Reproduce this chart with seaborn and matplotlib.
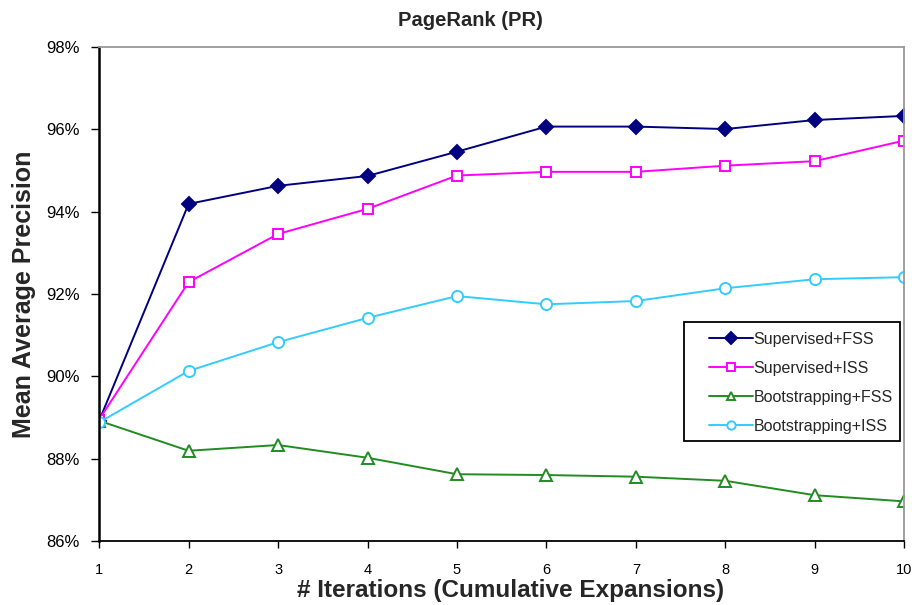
import matplotlib
matplotlib.use("Agg")
import matplotlib.pyplot as plt
import seaborn as sns
import pandas as pd
from matplotlib.patches import Rectangle
from matplotlib.ticker import FuncFormatter

iterations = [1, 2, 3, 4, 5, 6, 7, 8, 9, 10]
supervised_fss = [88.92, 94.19, 94.63, 94.87, 95.46, 96.07, 96.07, 96.01, 96.23, 96.33]
supervised_iss = [88.95, 92.29, 93.46, 94.07, 94.88, 94.97, 94.97, 95.12, 95.23, 95.73]
bootstrapping_fss = [88.92, 88.19, 88.33, 88.02, 87.62, 87.60, 87.56, 87.46, 87.11, 86.96]
bootstrapping_iss = [88.88, 90.13, 90.83, 91.42, 91.95, 91.75, 91.83, 92.14, 92.36, 92.41]

series_names = ["Supervised+FSS", "Supervised+ISS", "Bootstrapping+FSS", "Bootstrapping+ISS"]
series_values = [supervised_fss, supervised_iss, bootstrapping_fss, bootstrapping_iss]
y_ticks = [86, 88, 90, 92, 94, 96, 98]

styles = {
    "Supervised+FSS": dict(color="#000080", marker="D", mfc="#000080", ms=7),
    "Supervised+ISS": dict(color="#FF00FF", marker="s", mfc="white", ms=7.5),
    "Bootstrapping+FSS": dict(color="#228B22", marker="^", mfc="white", ms=8),
    "Bootstrapping+ISS": dict(color="#33CCFF", marker="o", mfc="white", ms=8),
}

df = pd.DataFrame({
    "iteration": iterations * len(series_names),
    "value": [v for vals in series_values for v in vals],
    "series": [n for n in series_names for _ in iterations],
})

sns.set_style("white")
plt.rcParams["font.family"] = ["Liberation Sans", "DejaVu Sans"]

fig = plt.figure(figsize=(9.18, 6.05), dpi=100)
ax = fig.add_axes([0.108, 0.106, 0.877, 0.816])

for name in series_names:
    st = styles[name]
    sub = df[df["series"] == name]
    sns.lineplot(data=sub, x="iteration", y="value", ax=ax, label=name,
                 color=st["color"], marker=st["marker"], markersize=st["ms"],
                 markerfacecolor=st["mfc"], markeredgecolor=st["color"],
                 markeredgewidth=1.4, linewidth=1.4)

ax.set_xlim(1, 10)
ax.set_ylim(86, 98)
ax.set_xticks(iterations)
ax.set_yticks(y_ticks)
ax.yaxis.set_major_formatter(FuncFormatter(lambda v, _: f"{v:.0f}%"))
ax.tick_params(axis="both", direction="out", width=1, colors="black",
               left=True, bottom=True)
ax.tick_params(axis="y", length=6, labelsize=12, pad=8)
ax.tick_params(axis="x", length=5, labelsize=10.5, pad=11)

for side in ["top", "right"]:
    ax.spines[side].set_color("#999999")
    ax.spines[side].set_linewidth(1.3)
ax.spines["left"].set_color("black")
ax.spines["left"].set_linewidth(1.8)
ax.spines["bottom"].set_color("black")
ax.spines["bottom"].set_linewidth(1.3)

fig.text(0.512, 0.966, "PageRank (PR)", ha="center", va="center",
         fontsize=14.5, fontweight="bold")
ax.set_xlabel("# Iterations (Cumulative Expansions)", fontsize=17.5,
              fontweight="bold")
ax.xaxis.set_label_coords(0.511, -0.077)
ax.set_ylabel("Mean Average Precision", fontsize=18, fontweight="bold",
              labelpad=7)

# legend entries without their own frame, boxed by a separate rectangle
leg = ax.legend(loc="upper left", bbox_to_anchor=(0.757, 0.424), fontsize=11.5,
                frameon=False, handlelength=2.75, labelspacing=0.88,
                borderpad=0, handletextpad=0.05, borderaxespad=0)
for h in leg.legend_handles:
    h.set_markersize(6)
leg.set_zorder(6)
ax.add_patch(Rectangle((0.726, 0.2024), 0.269, 0.2406, transform=ax.transAxes,
                       facecolor="white", edgecolor="black", linewidth=1.3,
                       zorder=5))

fig.savefig("out.png", dpi=100)
